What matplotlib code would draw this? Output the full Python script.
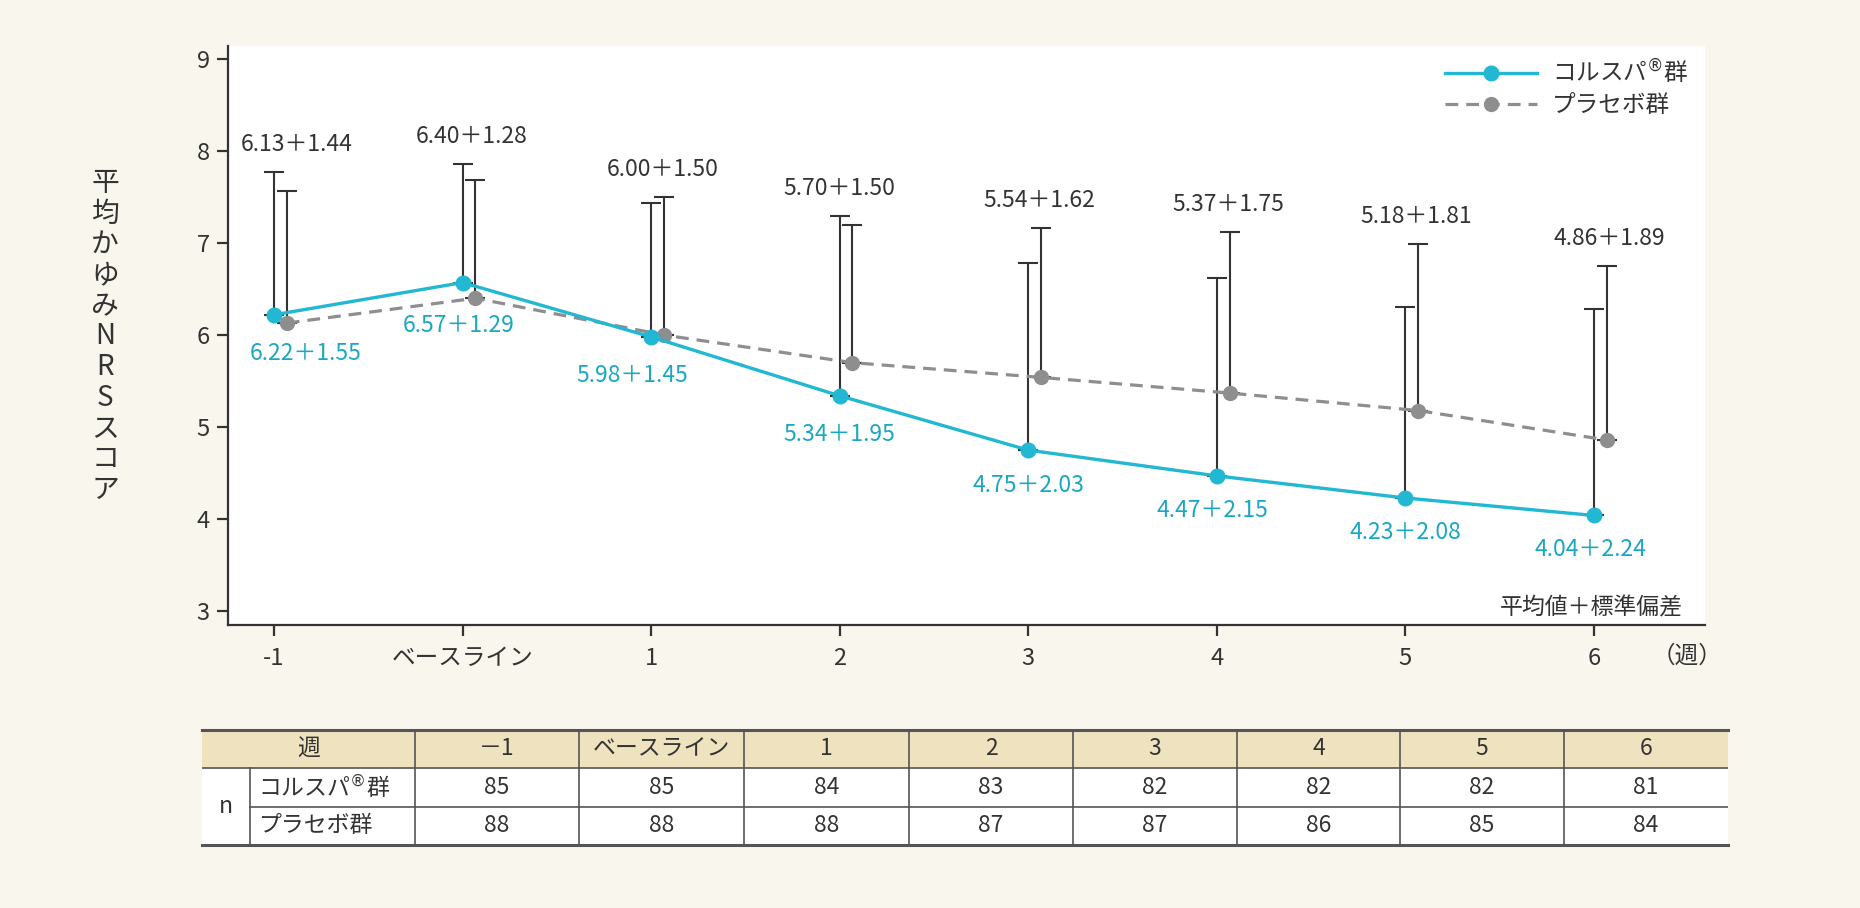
import matplotlib
matplotlib.use("Agg")
import matplotlib.pyplot as plt
import matplotlib.patches as mpatches
import numpy as np

plt.rcParams['font.family'] = ['Noto Sans CJK JP', 'DejaVu Sans']

# data
weeks = ['-1', 'ベースライン', '1', '2', '3', '4', '5', '6']
weeks_table = ['－1', 'ベースライン', '1', '2', '3', '4', '5', '6']
kor_mean = [6.22, 6.57, 5.98, 5.34, 4.75, 4.47, 4.23, 4.04]
kor_sd = [1.55, 1.29, 1.45, 1.95, 2.03, 2.15, 2.08, 2.24]
pla_mean = [6.13, 6.40, 6.00, 5.70, 5.54, 5.37, 5.18, 4.86]
pla_sd = [1.44, 1.28, 1.50, 1.50, 1.62, 1.75, 1.81, 1.89]
kor_n = [85, 85, 84, 83, 82, 82, 82, 81]
pla_n = [88, 88, 88, 87, 87, 86, 85, 84]
kor_name = 'コルスパ$^{\\circledR}$群'
pla_name = 'プラセボ群'

cyan = '#22b7d2'
cyan_txt = '#1aa7c2'
grey = '#8e8e8e'
dark = '#333333'
bg = '#f9f6ee'

fig = plt.figure(figsize=(18.6, 9.08), dpi=100, facecolor=bg)
W, H = 1860, 908
ax = fig.add_axes([228 / W, 1 - 625 / H, (1705 - 228) / W, (625 - 46) / H])
ax.set_facecolor('white')

x = np.arange(len(weeks))
shift = 0.068
zero = np.zeros(len(x))

ax.errorbar(x, kor_mean, yerr=[zero, kor_sd], fmt='none', ecolor=dark,
            elinewidth=1.5, capsize=7.5, capthick=1.5, zorder=2)
ax.errorbar(x + shift, pla_mean, yerr=[zero, pla_sd], fmt='none', ecolor=dark,
            elinewidth=1.5, capsize=7.5, capthick=1.5, zorder=2)
l_pla, = ax.plot(x + shift, pla_mean, color=grey, lw=2.3, ls=(0, (4, 2.5)),
                 marker='o', ms=10, zorder=3, label=pla_name)
l_kor, = ax.plot(x, kor_mean, color=cyan, lw=2.4, marker='o', ms=10.5,
                 zorder=4, label=kor_name)

# value labels
pla_dx = [0.12, 0.05, 0.06, 0.0, 0.06, 0.06, 0.06, 0.08]
kor_dx = [0.17, -0.02, -0.10, 0.0, 0.0, -0.02, 0.0, -0.02]
kor_dy = [0.42, 0.47, 0.42, 0.42, 0.38, 0.38, 0.37, 0.37]
for i in range(len(x)):
    top = max(kor_mean[i] + kor_sd[i], pla_mean[i] + pla_sd[i])
    ax.text(x[i] + pla_dx[i], top + 0.30, f'{pla_mean[i]:.2f}＋{pla_sd[i]:.2f}',
            ha='center', va='center', fontsize=16.5, color=dark)
    ax.text(x[i] + kor_dx[i], kor_mean[i] - kor_dy[i], f'{kor_mean[i]:.2f}＋{kor_sd[i]:.2f}',
            ha='center', va='center', fontsize=16.5, color=cyan_txt)

ax.set_xlim(-0.244, 7.59)
ax.set_ylim(2.85, 9.14)
ax.set_yticks(range(3, 10))
ax.set_xticks(x)
ax.set_xticklabels(weeks)
for s in ['top', 'right']:
    ax.spines[s].set_visible(False)
for s in ['left', 'bottom']:
    ax.spines[s].set_color(dark)
    ax.spines[s].set_linewidth(1.6)
ax.tick_params(axis='both', colors=dark, labelsize=17, width=1.6, length=8)
ax.tick_params(axis='x', pad=8)
ax.tick_params(axis='y', pad=5)

ax.text(1.012, -0.054, '（週）', transform=ax.transAxes, ha='right', va='center',
        fontsize=17, color=dark)
ax.text(0.985, 0.03, '平均値＋標準偏差', transform=ax.transAxes, ha='right',
        va='center', fontsize=16.5, color=dark)

ax.legend(handles=[l_kor, l_pla], loc='upper right', bbox_to_anchor=(1.003, 1.017),
          frameon=False, fontsize=17, handlelength=3.9, labelspacing=0.3,
          handletextpad=0.6, labelcolor=dark)

# y label, stacked upright characters
ylab = '平均かゆみNRSスコア'
for k, ch in enumerate(ylab):
    fig.text(105 / W, 1 - (183 + k * 30.7) / H, ch, ha='center', va='center',
             fontsize=20, color=dark)

# table
tx = [202, 250, 415, 579, 744, 909, 1073, 1237, 1400, 1564, 1728]
ty = [730, 768, 807, 845]
tab = fig.add_axes([tx[0] / W, 1 - ty[-1] / H, (tx[-1] - tx[0]) / W, (ty[-1] - ty[0]) / H])
tab.set_xlim(tx[0], tx[-1])
tab.set_ylim(ty[-1], ty[0])
tab.axis('off')
tab.add_patch(mpatches.Rectangle((tx[0], ty[0]), tx[-1] - tx[0], ty[1] - ty[0],
                                 facecolor='#eee2bf', edgecolor='none'))
tab.add_patch(mpatches.Rectangle((tx[0], ty[1]), tx[-1] - tx[0], ty[3] - ty[1],
                                 facecolor='white', edgecolor='none'))
tab.plot([tx[0], tx[-1]], [ty[0], ty[0]], color='#555555', lw=2.2, clip_on=False)
tab.plot([tx[0], tx[-1]], [ty[3], ty[3]], color='#555555', lw=2.2, clip_on=False)
tab.plot([tx[0], tx[-1]], [ty[1], ty[1]], color='#555555', lw=1.2)
tab.plot([tx[1], tx[-1]], [ty[2], ty[2]], color='#555555', lw=1.2)
tab.plot([tx[1], tx[1]], [ty[1], ty[3]], color='#555555', lw=1.2)
for xx in tx[2:-1]:
    tab.plot([xx, xx], [ty[0], ty[3]], color='#555555', lw=1.2)

fs_t = 16.5
tab.text((tx[0] + tx[2]) / 2, (ty[0] + ty[1]) / 2, '週', ha='center', va='center',
         fontsize=fs_t, color=dark)
tab.text((tx[0] + tx[1]) / 2, (ty[1] + ty[3]) / 2, 'n', ha='center', va='center',
         fontsize=fs_t, color=dark)
tab.text(tx[1] + 8, (ty[1] + ty[2]) / 2, kor_name, ha='left', va='center',
         fontsize=fs_t, color=dark)
tab.text(tx[1] + 8, (ty[2] + ty[3]) / 2, pla_name, ha='left', va='center',
         fontsize=fs_t, color=dark)
for j in range(len(weeks_table)):
    cx = (tx[j + 2] + tx[j + 3]) / 2
    tab.text(cx, (ty[0] + ty[1]) / 2, weeks_table[j], ha='center', va='center',
             fontsize=fs_t, color=dark)
    tab.text(cx, (ty[1] + ty[2]) / 2, str(kor_n[j]), ha='center', va='center',
             fontsize=fs_t, color=dark)
    tab.text(cx, (ty[2] + ty[3]) / 2, str(pla_n[j]), ha='center', va='center',
             fontsize=fs_t, color=dark)

fig.savefig('out.png', dpi=100, facecolor=bg)
